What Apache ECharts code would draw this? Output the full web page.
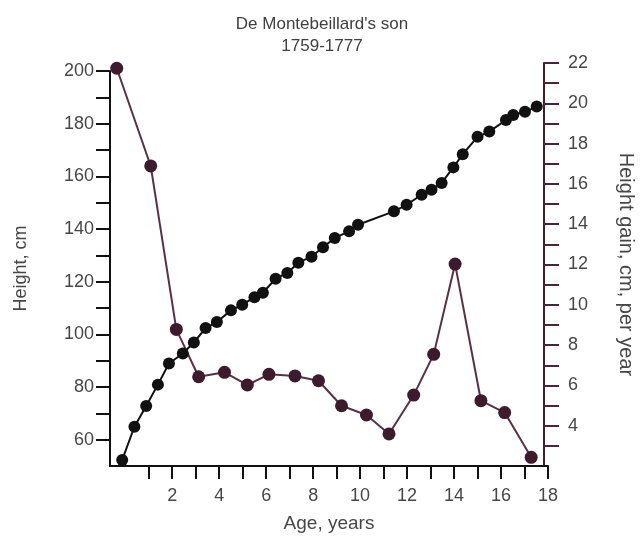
<!DOCTYPE html>
<html><head><meta charset="utf-8">
<script src="https://cdn.jsdelivr.net/npm/echarts@6/dist/echarts.min.js"></script>
<style>html,body{margin:0;padding:0;background:#fff}#c{width:644px;height:539px}</style>
</head><body><div id="c"></div>
<script>
const titleLines = ["De Montebeillard's son", "1759-1777"];
const xAxisName = "Age, years";
const leftAxisName = "Height, cm";
const rightAxisName = "Height gain, cm, per year";

// Height (cm) by age (years)
const heightAges = [-0.13, 0.39, 0.89, 1.39, 1.86, 2.45, 2.92, 3.42, 3.9, 4.5, 4.98, 5.5, 5.86, 6.4, 6.9, 7.37, 7.93, 8.42, 8.92, 9.53, 9.91, 11.44, 11.98, 12.62, 13.04, 13.47, 13.97, 14.37, 15.0, 15.5, 16.21, 16.52, 17.02, 17.52];
const heightValues = [52.3, 64.9, 72.8, 80.9, 88.9, 92.7, 96.9, 102.4, 104.7, 109.1, 111.2, 114.1, 115.8, 121.1, 123.3, 127.2, 129.5, 133.1, 136.6, 139.1, 141.6, 146.7, 149.2, 153.0, 154.9, 157.5, 163.4, 168.4, 175.0, 177.0, 181.4, 183.3, 184.5, 186.5];

// Height gain (cm per year) by age (years)
const gainAges = [-0.36, 1.1, 2.2, 3.16, 4.27, 5.25, 6.18, 7.3, 8.31, 9.3, 10.37, 11.34, 12.4, 13.26, 14.18, 15.29, 16.31, 17.45];
const gainValues = [21.74, 16.89, 8.78, 6.43, 6.65, 6.02, 6.55, 6.47, 6.23, 4.99, 4.53, 3.59, 5.52, 7.54, 12.02, 5.24, 4.65, 2.43];

const xTickValues = [1, 2, 3, 4, 5, 6, 7, 8, 9, 10, 11, 12, 13, 14, 15, 16, 17, 18];
const xLabelValues = [2, 4, 6, 8, 10, 12, 14, 16, 18];
const leftTickValues = [60, 70, 80, 90, 100, 110, 120, 130, 140, 150, 160, 170, 180, 190, 200];
const leftLabelValues = [60, 80, 100, 120, 140, 160, 180, 200];
const rightTickValues = [3, 4, 5, 6, 7, 8, 9, 10, 11, 12, 13, 14, 15, 16, 17, 18, 19, 20, 21, 22];
const rightLabelValues = [4, 6, 8, 10, 12, 14, 16, 18, 20, 22];

const FONT = "'Liberation Sans', Arial, Helvetica, sans-serif";
const blackC = '#111111';
const maroonLine = '#5a3045';
const maroonDot = '#3d1a2c';
const textC = '#474747';

const chart = echarts.init(document.getElementById('c'), null, {renderer: 'canvas'});
chart.setOption({
  animation: false,
  backgroundColor: '#ffffff',
  textStyle: {fontFamily: FONT},
  title: {
    text: titleLines.join('\n'),
    left: 'center', top: 8,
    textStyle: {fontFamily: FONT, fontSize: 17, lineHeight: 22, fontWeight: 'normal', color: '#404040'}
  },
  grid: [
    {left: 110, right: 96, top: 71, bottom: 73},
    {left: 110, right: 96, top: 63, bottom: 73}
  ],
  xAxis: [
    {
      type: 'value', gridIndex: 0, min: -0.65, max: 18,
      name: xAxisName, nameLocation: 'middle', nameGap: 48,
      nameTextStyle: {fontFamily: FONT, fontSize: 19, color: textC},
      axisLine: {onZero: false, lineStyle: {color: blackC, width: 2}},
      axisTick: {customValues: xTickValues, length: 13, lineStyle: {color: blackC, width: 2}},
      axisLabel: {customValues: xLabelValues, margin: 21, fontSize: 18, color: textC, fontFamily: FONT},
      splitLine: {show: false}
    },
    {
      type: 'value', gridIndex: 1, min: -0.65, max: 18, show: false,
      splitLine: {show: false}
    }
  ],
  yAxis: [
    {
      type: 'value', gridIndex: 0, position: 'left', min: 50, max: 200,
      name: leftAxisName, nameLocation: 'middle', nameGap: 80,
      nameTextStyle: {fontFamily: FONT, fontSize: 18, color: textC},
      axisLine: {show: true, onZero: false, lineStyle: {color: blackC, width: 2}},
      axisTick: {show: true, customValues: leftTickValues, length: 14, lineStyle: {color: blackC, width: 2}},
      axisLabel: {customValues: leftLabelValues, margin: 16, fontSize: 18, color: textC, fontFamily: FONT},
      splitLine: {show: false}
    },
    {
      type: 'value', gridIndex: 1, position: 'right', min: 2, max: 22,
      name: rightAxisName, nameLocation: 'middle', nameGap: 72, nameRotate: -90,
      nameTextStyle: {fontFamily: FONT, fontSize: 20, color: textC},
      axisLine: {show: true, onZero: false, lineStyle: {color: '#3f2030', width: 2}},
      axisTick: {show: true, customValues: rightTickValues, length: 15, lineStyle: {color: '#4a2538', width: 2}},
      axisLabel: {customValues: rightLabelValues, margin: 24, fontSize: 18, color: textC, fontFamily: FONT},
      splitLine: {show: false}
    }
  ],
  series: [
    {
      type: 'line', xAxisIndex: 1, yAxisIndex: 1, clip: false,
      data: gainAges.map((a, i) => [a, gainValues[i]]),
      symbol: 'circle', symbolSize: 13,
      lineStyle: {color: maroonLine, width: 2},
      itemStyle: {color: maroonDot},
      z: 2
    },
    {
      type: 'line', xAxisIndex: 0, yAxisIndex: 0, clip: false,
      data: heightAges.map((a, i) => [a, heightValues[i]]),
      symbol: 'circle', symbolSize: 12,
      lineStyle: {color: blackC, width: 2},
      itemStyle: {color: blackC},
      z: 3
    }
  ]
});
</script>
</body></html>
